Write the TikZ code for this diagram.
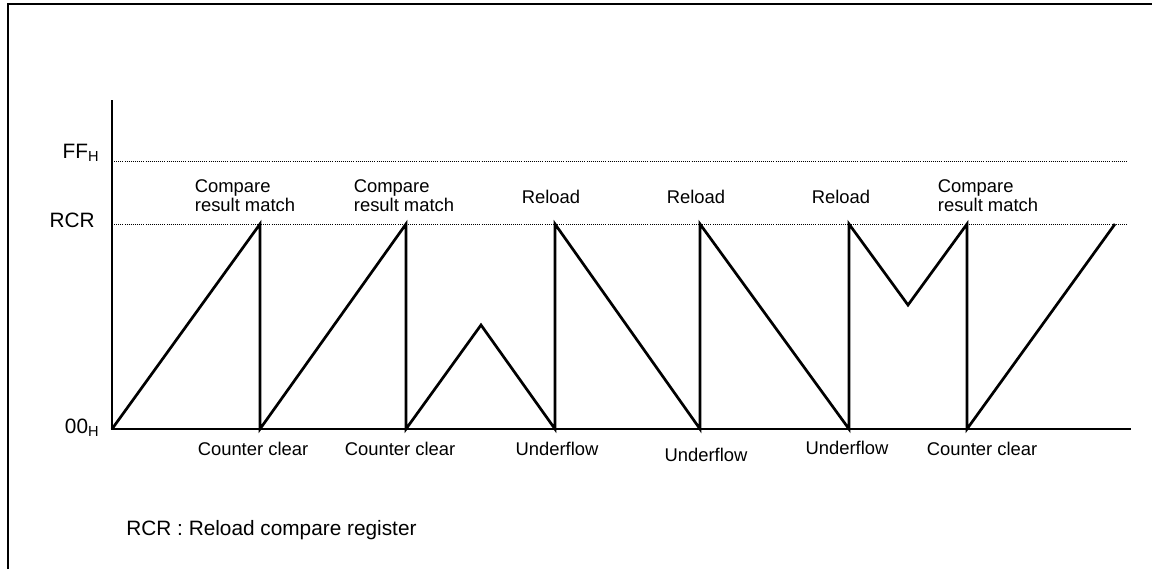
\documentclass[tikz,border=0pt]{standalone}
\usepackage{fontspec}
\setmainfont{Liberation Sans}
\usetikzlibrary{positioning}

\begin{document}
\begin{tikzpicture}[x=0.5pt, y=-0.5pt,
    lbl/.style={font=\fontsize{9.2}{9.6}\selectfont, inner sep=0pt, align=left},
    big/.style={lbl, font=\fontsize{10.4}{11}\selectfont},
    wave/.style={draw=black, line width=1.35pt, line join=miter},
    guide/.style={draw=black, line width=0.45pt, dash pattern=on 0.45pt off 0.6pt},
    frame/.style={draw=black, line width=0.8pt}
]
\useasboundingbox (0,0) rectangle (1152,569);
\draw[frame] (8,569) -- (8,4) -- (1152,4);

% axis and levels
\coordinate (ytop) at (112,100);
\coordinate (org)  at (112,429);
\coordinate (xend) at (1131,429);
\coordinate (ffl) at (114,161);  \coordinate (ffr) at (1128,161);
\coordinate (rcl) at (114,224);  \coordinate (rcr) at (1128,224);
\draw[guide] (ffl) -- (ffr);
\draw[guide] (rcl) -- (rcr);
\draw[wave] (ytop) -- (org) -- (xend);

\node[big, anchor=east] (ff)  at (100,153) {FF\textsubscript{H}};
\node[big, anchor=east] (rcrlbl) at (95,220) {RCR};
\node[big, anchor=east] (zero) at (100,428) {00\textsubscript{H}};

% counter value
\coordinate (cm1) at (260,224);  \coordinate (cc1) at (260,429);
\coordinate (cm2) at (406,224);  \coordinate (cc2) at (406,429);
\coordinate (pk)  at (481,325);
\coordinate (uf1) at (555,429);  \coordinate (rl1) at (555,224);
\coordinate (uf2) at (700,429);  \coordinate (rl2) at (700,224);
\coordinate (uf3) at (849,429);  \coordinate (rl3) at (849,224);
\coordinate (vl)  at (908,305);
\coordinate (cm3) at (967,224);  \coordinate (cc3) at (967,429);
\coordinate (last) at (1115,224);
\draw[wave] (org) -- (cm1) -- (cc1) -- (cm2) -- (cc2) -- (pk) -- (uf1) -- (rl1)
    -- (uf2) -- (rl2) -- (uf3) -- (rl3) -- (vl) -- (cm3) -- (cc3) -- (last);

% events above
\node[lbl] (t1) at (245,196) {Compare\\result match};
\node[lbl] (t2) at (404,196) {Compare\\result match};
\node[lbl] (t3) at (551,197) {Reload};
\node[lbl] (t4) at (696,197) {Reload};
\node[lbl] (t5) at (841,197) {Reload};
\node[lbl] (t6) at (988,196) {Compare\\result match};

% events below
\node[lbl] (b1) at (253,449) {Counter clear};
\node[lbl] (b2) at (400,449) {Counter clear};
\node[lbl] (b3) at (557,449) {Underflow};
\node[lbl] (b4) at (706,455) {Underflow};
\node[lbl] (b5) at (847,448) {Underflow};
\node[lbl] (b6) at (982,449) {Counter clear};

\node[big, anchor=west] (note) at (126,530) {RCR : Reload compare register};
\end{tikzpicture}
\end{document}
